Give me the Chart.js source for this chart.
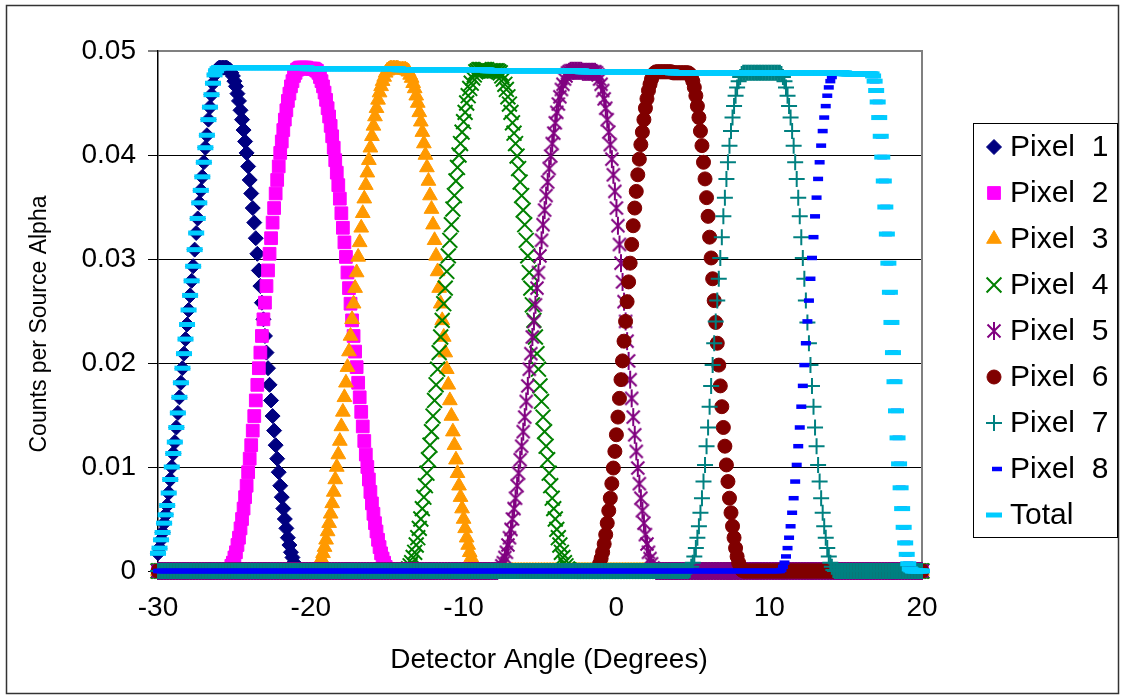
<!DOCTYPE html>
<html>
<head>
<meta charset="utf-8">
<title>Detector angle response</title>
<script src="https://cdn.jsdelivr.net/npm/chart.js@4.4.1/dist/chart.umd.min.js"></script>
<style>
  html, body { margin: 0; padding: 0; background: #ffffff; }
  #wrap { width: 1125px; height: 700px; }
</style>
</head>
<body>
<div id="wrap"><canvas id="chart" width="1125" height="700"></canvas></div>
<script>
// Detector angle in degrees (x values shared by every series)
const angles = [
-30,-29.9,-29.8,-29.7,-29.6,-29.5,-29.4,-29.3,-29.2,-29.1,
-29,-28.9,-28.8,-28.7,-28.6,-28.5,-28.4,-28.3,-28.2,-28.1,
-28,-27.9,-27.8,-27.7,-27.6,-27.5,-27.4,-27.3,-27.2,-27.1,
-27,-26.9,-26.8,-26.7,-26.6,-26.5,-26.4,-26.3,-26.2,-26.1,
-26,-25.9,-25.8,-25.7,-25.6,-25.5,-25.4,-25.3,-25.2,-25.1,
-25,-24.9,-24.8,-24.7,-24.6,-24.5,-24.4,-24.3,-24.2,-24.1,
-24,-23.9,-23.8,-23.7,-23.6,-23.5,-23.4,-23.3,-23.2,-23.1,
-23,-22.9,-22.8,-22.7,-22.6,-22.5,-22.4,-22.3,-22.2,-22.1,
-22,-21.9,-21.8,-21.7,-21.6,-21.5,-21.4,-21.3,-21.2,-21.1,
-21,-20.9,-20.8,-20.7,-20.6,-20.5,-20.4,-20.3,-20.2,-20.1,
-20,-19.9,-19.8,-19.7,-19.6,-19.5,-19.4,-19.3,-19.2,-19.1,
-19,-18.9,-18.8,-18.7,-18.6,-18.5,-18.4,-18.3,-18.2,-18.1,
-18,-17.9,-17.8,-17.7,-17.6,-17.5,-17.4,-17.3,-17.2,-17.1,
-17,-16.9,-16.8,-16.7,-16.6,-16.5,-16.4,-16.3,-16.2,-16.1,
-16,-15.9,-15.8,-15.7,-15.6,-15.5,-15.4,-15.3,-15.2,-15.1,
-15,-14.9,-14.8,-14.7,-14.6,-14.5,-14.4,-14.3,-14.2,-14.1,
-14,-13.9,-13.8,-13.7,-13.6,-13.5,-13.4,-13.3,-13.2,-13.1,
-13,-12.9,-12.8,-12.7,-12.6,-12.5,-12.4,-12.3,-12.2,-12.1,
-12,-11.9,-11.8,-11.7,-11.6,-11.5,-11.4,-11.3,-11.2,-11.1,
-11,-10.9,-10.8,-10.7,-10.6,-10.5,-10.4,-10.3,-10.2,-10.1,
-10,-9.9,-9.8,-9.7,-9.6,-9.5,-9.4,-9.3,-9.2,-9.1,
-9,-8.9,-8.8,-8.7,-8.6,-8.5,-8.4,-8.3,-8.2,-8.1,
-8,-7.9,-7.8,-7.7,-7.6,-7.5,-7.4,-7.3,-7.2,-7.1,
-7,-6.9,-6.8,-6.7,-6.6,-6.5,-6.4,-6.3,-6.2,-6.1,
-6,-5.9,-5.8,-5.7,-5.6,-5.5,-5.4,-5.3,-5.2,-5.1,
-5,-4.9,-4.8,-4.7,-4.6,-4.5,-4.4,-4.3,-4.2,-4.1,
-4,-3.9,-3.8,-3.7,-3.6,-3.5,-3.4,-3.3,-3.2,-3.1,
-3,-2.9,-2.8,-2.7,-2.6,-2.5,-2.4,-2.3,-2.2,-2.1,
-2,-1.9,-1.8,-1.7,-1.6,-1.5,-1.4,-1.3,-1.2,-1.1,
-1,-0.9,-0.8,-0.7,-0.6,-0.5,-0.4,-0.3,-0.2,-0.1,
0,0.1,0.2,0.3,0.4,0.5,0.6,0.7,0.8,0.9,
1,1.1,1.2,1.3,1.4,1.5,1.6,1.7,1.8,1.9,
2,2.1,2.2,2.3,2.4,2.5,2.6,2.7,2.8,2.9,
3,3.1,3.2,3.3,3.4,3.5,3.6,3.7,3.8,3.9,
4,4.1,4.2,4.3,4.4,4.5,4.6,4.7,4.8,4.9,
5,5.1,5.2,5.3,5.4,5.5,5.6,5.7,5.8,5.9,
6,6.1,6.2,6.3,6.4,6.5,6.6,6.7,6.8,6.9,
7,7.1,7.2,7.3,7.4,7.5,7.6,7.7,7.8,7.9,
8,8.1,8.2,8.3,8.4,8.5,8.6,8.7,8.8,8.9,
9,9.1,9.2,9.3,9.4,9.5,9.6,9.7,9.8,9.9,
10,10.1,10.2,10.3,10.4,10.5,10.6,10.7,10.8,10.9,
11,11.1,11.2,11.3,11.4,11.5,11.6,11.7,11.8,11.9,
12,12.1,12.2,12.3,12.4,12.5,12.6,12.7,12.8,12.9,
13,13.1,13.2,13.3,13.4,13.5,13.6,13.7,13.8,13.9,
14,14.1,14.2,14.3,14.4,14.5,14.6,14.7,14.8,14.9,
15,15.1,15.2,15.3,15.4,15.5,15.6,15.7,15.8,15.9,
16,16.1,16.2,16.3,16.4,16.5,16.6,16.7,16.8,16.9,
17,17.1,17.2,17.3,17.4,17.5,17.6,17.7,17.8,17.9,
18,18.1,18.2,18.3,18.4,18.5,18.6,18.7,18.8,18.9,
19,19.1,19.2,19.3,19.4,19.5,19.6,19.7,19.8,19.9,
20
];

// Counts per source alpha for each detector pixel
const pixel1 = [
0.0017,0.0022,0.0030,0.0037,0.0046,0.0054,0.0063,0.0075,0.0088,0.0100,
0.0113,0.0124,0.0138,0.0152,0.0167,0.0181,0.0195,0.0209,0.0223,0.0237,
0.0251,0.0265,0.0279,0.0293,0.0309,0.0325,0.0339,0.0354,0.0366,0.0379,
0.0393,0.0407,0.0419,0.0434,0.0446,0.0458,0.0469,0.0477,0.0481,0.0483,
0.0484,0.0484,0.0484,0.0484,0.0484,0.0484,0.0483,0.0482,0.0479,0.0476,
0.0471,0.0466,0.0459,0.0452,0.0443,0.0434,0.0424,0.0413,0.0402,0.0389,
0.0376,0.0363,0.0349,0.0335,0.0320,0.0305,0.0289,0.0274,0.0258,0.0242,
0.0226,0.0210,0.0195,0.0179,0.0164,0.0149,0.0135,0.0121,0.0108,0.0095,
0.0082,0.0071,0.0060,0.0050,0.0041,0.0032,0.0025,0.0018,0.0013,0.0008,
0.0005,0.0002,0.0001,0,0,0,0,0,0,0,
0,0,0,0,0,0,0,0,0,0,
0,0,0,0,0,0,0,0,0,0,
0,0,0,0,0,0,0,0,0,0,
0,0,0,0,0,0,0,0,0,0,
0,0,0,0,0,0,0,0,0,0,
0,0,0,0,0,0,0,0,0,0,
0,0,0,0,0,0,0,0,0,0,
0,0,0,0,0,0,0,0,0,0,
0,0,0,0,0,0,0,0,0,0,
0,0,0,0,0,0,0,0,0,0,
0,0,0,0,0,0,0,0,0,0,
0,0,0,0,0,0,0,0,0,0,
0,0,0,0,0,0,0,0,0,0,
0,0,0,0,0,0,0,0,0,0,
0,0,0,0,0,0,0,0,0,0,
0,0,0,0,0,0,0,0,0,0,
0,0,0,0,0,0,0,0,0,0,
0,0,0,0,0,0,0,0,0,0,
0,0,0,0,0,0,0,0,0,0,
0,0,0,0,0,0,0,0,0,0,
0,0,0,0,0,0,0,0,0,0,
0,0,0,0,0,0,0,0,0,0,
0,0,0,0,0,0,0,0,0,0,
0,0,0,0,0,0,0,0,0,0,
0,0,0,0,0,0,0,0,0,0,
0,0,0,0,0,0,0,0,0,0,
0,0,0,0,0,0,0,0,0,0,
0,0,0,0,0,0,0,0,0,0,
0,0,0,0,0,0,0,0,0,0,
0,0,0,0,0,0,0,0,0,0,
0,0,0,0,0,0,0,0,0,0,
0,0,0,0,0,0,0,0,0,0,
0,0,0,0,0,0,0,0,0,0,
0,0,0,0,0,0,0,0,0,0,
0,0,0,0,0,0,0,0,0,0,
0,0,0,0,0,0,0,0,0,0,
0,0,0,0,0,0,0,0,0,0,
0,0,0,0,0,0,0,0,0,0,
0,0,0,0,0,0,0,0,0,0,
0,0,0,0,0,0,0,0,0,0,
0
];

const pixel2 = [
0,0,0,0,0,0,0,0,0,0,
0,0,0,0,0,0,0,0,0,0,
0,0,0,0,0,0,0,0,0,0,
0,0,0,0,0,0,0,0,0,0,
0,0,0,0,0,0,0.0001,0.0002,0.0005,0.0008,
0.0013,0.0018,0.0025,0.0032,0.0041,0.0050,0.0060,0.0071,0.0082,0.0095,
0.0108,0.0121,0.0135,0.0149,0.0164,0.0179,0.0195,0.0210,0.0226,0.0242,
0.0258,0.0274,0.0289,0.0305,0.0320,0.0335,0.0349,0.0363,0.0376,0.0389,
0.0402,0.0413,0.0424,0.0434,0.0443,0.0452,0.0459,0.0466,0.0471,0.0476,
0.0479,0.0482,0.0483,0.0484,0.0484,0.0484,0.0484,0.0484,0.0483,0.0483,
0.0483,0.0483,0.0483,0.0482,0.0481,0.0479,0.0475,0.0471,0.0466,0.0460,
0.0453,0.0445,0.0437,0.0428,0.0418,0.0407,0.0395,0.0383,0.0371,0.0358,
0.0344,0.0330,0.0316,0.0302,0.0287,0.0272,0.0257,0.0241,0.0226,0.0211,
0.0196,0.0181,0.0167,0.0153,0.0139,0.0125,0.0112,0.0100,0.0088,0.0076,
0.0065,0.0055,0.0046,0.0038,0.0030,0.0023,0.0017,0.0012,0.0008,0.0004,
0.0002,0.0001,0,0,0,0,0,0,0,0,
0,0,0,0,0,0,0,0,0,0,
0,0,0,0,0,0,0,0,0,0,
0,0,0,0,0,0,0,0,0,0,
0,0,0,0,0,0,0,0,0,0,
0,0,0,0,0,0,0,0,0,0,
0,0,0,0,0,0,0,0,0,0,
0,0,0,0,0,0,0,0,0,0,
0,0,0,0,0,0,0,0,0,0,
0,0,0,0,0,0,0,0,0,0,
0,0,0,0,0,0,0,0,0,0,
0,0,0,0,0,0,0,0,0,0,
0,0,0,0,0,0,0,0,0,0,
0,0,0,0,0,0,0,0,0,0,
0,0,0,0,0,0,0,0,0,0,
0,0,0,0,0,0,0,0,0,0,
0,0,0,0,0,0,0,0,0,0,
0,0,0,0,0,0,0,0,0,0,
0,0,0,0,0,0,0,0,0,0,
0,0,0,0,0,0,0,0,0,0,
0,0,0,0,0,0,0,0,0,0,
0,0,0,0,0,0,0,0,0,0,
0,0,0,0,0,0,0,0,0,0,
0,0,0,0,0,0,0,0,0,0,
0,0,0,0,0,0,0,0,0,0,
0,0,0,0,0,0,0,0,0,0,
0,0,0,0,0,0,0,0,0,0,
0,0,0,0,0,0,0,0,0,0,
0,0,0,0,0,0,0,0,0,0,
0,0,0,0,0,0,0,0,0,0,
0,0,0,0,0,0,0,0,0,0,
0,0,0,0,0,0,0,0,0,0,
0,0,0,0,0,0,0,0,0,0,
0,0,0,0,0,0,0,0,0,0,
0,0,0,0,0,0,0,0,0,0,
0
];

const pixel3 = [
0,0,0,0,0,0,0,0,0,0,
0,0,0,0,0,0,0,0,0,0,
0,0,0,0,0,0,0,0,0,0,
0,0,0,0,0,0,0,0,0,0,
0,0,0,0,0,0,0,0,0,0,
0,0,0,0,0,0,0,0,0,0,
0,0,0,0,0,0,0,0,0,0,
0,0,0,0,0,0,0,0,0,0,
0,0,0,0,0,0,0,0,0,0,
0,0,0,0,0,0,0,0,0,0,
0,0,0,0.0001,0.0002,0.0004,0.0008,0.0012,0.0017,0.0023,
0.0030,0.0038,0.0046,0.0055,0.0065,0.0076,0.0088,0.0100,0.0112,0.0125,
0.0139,0.0153,0.0167,0.0181,0.0196,0.0211,0.0226,0.0242,0.0257,0.0272,
0.0287,0.0302,0.0316,0.0330,0.0344,0.0358,0.0371,0.0383,0.0395,0.0407,
0.0418,0.0428,0.0437,0.0445,0.0453,0.0460,0.0466,0.0471,0.0475,0.0479,
0.0481,0.0482,0.0483,0.0483,0.0483,0.0483,0.0483,0.0483,0.0482,0.0482,
0.0482,0.0482,0.0482,0.0481,0.0480,0.0477,0.0474,0.0469,0.0464,0.0457,
0.0450,0.0441,0.0432,0.0422,0.0411,0.0400,0.0388,0.0375,0.0361,0.0348,
0.0333,0.0318,0.0303,0.0288,0.0272,0.0257,0.0241,0.0225,0.0210,0.0194,
0.0179,0.0164,0.0149,0.0134,0.0121,0.0107,0.0094,0.0082,0.0071,0.0060,
0.0050,0.0041,0.0032,0.0025,0.0018,0.0013,0.0008,0.0005,0.0002,0.0001,
0,0,0,0,0,0,0,0,0,0,
0,0,0,0,0,0,0,0,0,0,
0,0,0,0,0,0,0,0,0,0,
0,0,0,0,0,0,0,0,0,0,
0,0,0,0,0,0,0,0,0,0,
0,0,0,0,0,0,0,0,0,0,
0,0,0,0,0,0,0,0,0,0,
0,0,0,0,0,0,0,0,0,0,
0,0,0,0,0,0,0,0,0,0,
0,0,0,0,0,0,0,0,0,0,
0,0,0,0,0,0,0,0,0,0,
0,0,0,0,0,0,0,0,0,0,
0,0,0,0,0,0,0,0,0,0,
0,0,0,0,0,0,0,0,0,0,
0,0,0,0,0,0,0,0,0,0,
0,0,0,0,0,0,0,0,0,0,
0,0,0,0,0,0,0,0,0,0,
0,0,0,0,0,0,0,0,0,0,
0,0,0,0,0,0,0,0,0,0,
0,0,0,0,0,0,0,0,0,0,
0,0,0,0,0,0,0,0,0,0,
0,0,0,0,0,0,0,0,0,0,
0,0,0,0,0,0,0,0,0,0,
0,0,0,0,0,0,0,0,0,0,
0,0,0,0,0,0,0,0,0,0,
0,0,0,0,0,0,0,0,0,0,
0,0,0,0,0,0,0,0,0,0,
0,0,0,0,0,0,0,0,0,0,
0,0,0,0,0,0,0,0,0,0,
0
];

const pixel4 = [
0,0,0,0,0,0,0,0,0,0,
0,0,0,0,0,0,0,0,0,0,
0,0,0,0,0,0,0,0,0,0,
0,0,0,0,0,0,0,0,0,0,
0,0,0,0,0,0,0,0,0,0,
0,0,0,0,0,0,0,0,0,0,
0,0,0,0,0,0,0,0,0,0,
0,0,0,0,0,0,0,0,0,0,
0,0,0,0,0,0,0,0,0,0,
0,0,0,0,0,0,0,0,0,0,
0,0,0,0,0,0,0,0,0,0,
0,0,0,0,0,0,0,0,0,0,
0,0,0,0,0,0,0,0,0,0,
0,0,0,0,0,0,0,0,0,0,
0,0,0,0,0,0,0,0,0,0,
0,0,0,0,0,0,0,0,0,0,
0,0,0,0.0001,0.0002,0.0005,0.0008,0.0013,0.0018,0.0025,
0.0032,0.0041,0.0050,0.0060,0.0071,0.0082,0.0094,0.0107,0.0121,0.0134,
0.0149,0.0164,0.0179,0.0194,0.0210,0.0225,0.0241,0.0257,0.0272,0.0288,
0.0303,0.0318,0.0333,0.0348,0.0361,0.0375,0.0388,0.0400,0.0411,0.0422,
0.0432,0.0441,0.0450,0.0457,0.0464,0.0469,0.0474,0.0477,0.0480,0.0481,
0.0482,0.0482,0.0482,0.0482,0.0482,0.0482,0.0481,0.0481,0.0481,0.0481,
0.0481,0.0481,0.0481,0.0480,0.0479,0.0476,0.0473,0.0468,0.0463,0.0456,
0.0449,0.0441,0.0431,0.0421,0.0411,0.0399,0.0387,0.0374,0.0361,0.0347,
0.0333,0.0318,0.0303,0.0287,0.0272,0.0256,0.0241,0.0225,0.0209,0.0194,
0.0178,0.0163,0.0148,0.0134,0.0120,0.0107,0.0094,0.0082,0.0070,0.0060,
0.0050,0.0040,0.0032,0.0025,0.0018,0.0013,0.0008,0.0005,0.0002,0.0001,
0,0,0,0,0,0,0,0,0,0,
0,0,0,0,0,0,0,0,0,0,
0,0,0,0,0,0,0,0,0,0,
0,0,0,0,0,0,0,0,0,0,
0,0,0,0,0,0,0,0,0,0,
0,0,0,0,0,0,0,0,0,0,
0,0,0,0,0,0,0,0,0,0,
0,0,0,0,0,0,0,0,0,0,
0,0,0,0,0,0,0,0,0,0,
0,0,0,0,0,0,0,0,0,0,
0,0,0,0,0,0,0,0,0,0,
0,0,0,0,0,0,0,0,0,0,
0,0,0,0,0,0,0,0,0,0,
0,0,0,0,0,0,0,0,0,0,
0,0,0,0,0,0,0,0,0,0,
0,0,0,0,0,0,0,0,0,0,
0,0,0,0,0,0,0,0,0,0,
0,0,0,0,0,0,0,0,0,0,
0,0,0,0,0,0,0,0,0,0,
0,0,0,0,0,0,0,0,0,0,
0,0,0,0,0,0,0,0,0,0,
0,0,0,0,0,0,0,0,0,0,
0,0,0,0,0,0,0,0,0,0,
0
];

const pixel5 = [
0,0,0,0,0,0,0,0,0,0,
0,0,0,0,0,0,0,0,0,0,
0,0,0,0,0,0,0,0,0,0,
0,0,0,0,0,0,0,0,0,0,
0,0,0,0,0,0,0,0,0,0,
0,0,0,0,0,0,0,0,0,0,
0,0,0,0,0,0,0,0,0,0,
0,0,0,0,0,0,0,0,0,0,
0,0,0,0,0,0,0,0,0,0,
0,0,0,0,0,0,0,0,0,0,
0,0,0,0,0,0,0,0,0,0,
0,0,0,0,0,0,0,0,0,0,
0,0,0,0,0,0,0,0,0,0,
0,0,0,0,0,0,0,0,0,0,
0,0,0,0,0,0,0,0,0,0,
0,0,0,0,0,0,0,0,0,0,
0,0,0,0,0,0,0,0,0,0,
0,0,0,0,0,0,0,0,0,0,
0,0,0,0,0,0,0,0,0,0,
0,0,0,0,0,0,0,0,0,0,
0,0,0,0,0,0,0,0,0,0,
0,0,0,0,0,0,0,0,0,0,
0,0,0,0.0001,0.0002,0.0005,0.0008,0.0013,0.0018,0.0025,
0.0032,0.0040,0.0050,0.0060,0.0070,0.0082,0.0094,0.0107,0.0120,0.0134,
0.0148,0.0163,0.0178,0.0194,0.0209,0.0225,0.0240,0.0256,0.0272,0.0287,
0.0303,0.0318,0.0333,0.0347,0.0361,0.0374,0.0387,0.0399,0.0411,0.0421,
0.0431,0.0441,0.0449,0.0456,0.0463,0.0468,0.0473,0.0476,0.0479,0.0480,
0.0481,0.0481,0.0481,0.0481,0.0481,0.0481,0.0481,0.0481,0.0480,0.0480,
0.0480,0.0480,0.0480,0.0480,0.0480,0.0480,0.0480,0.0479,0.0477,0.0473,
0.0468,0.0462,0.0454,0.0445,0.0434,0.0422,0.0410,0.0396,0.0381,0.0365,
0.0349,0.0332,0.0314,0.0296,0.0278,0.0259,0.0240,0.0221,0.0202,0.0184,
0.0166,0.0148,0.0131,0.0115,0.0099,0.0084,0.0070,0.0058,0.0046,0.0035,
0.0026,0.0018,0.0012,0.0007,0.0003,0.0001,0,0,0,0,
0,0,0,0,0,0,0,0,0,0,
0,0,0,0,0,0,0,0,0,0,
0,0,0,0,0,0,0,0,0,0,
0,0,0,0,0,0,0,0,0,0,
0,0,0,0,0,0,0,0,0,0,
0,0,0,0,0,0,0,0,0,0,
0,0,0,0,0,0,0,0,0,0,
0,0,0,0,0,0,0,0,0,0,
0,0,0,0,0,0,0,0,0,0,
0,0,0,0,0,0,0,0,0,0,
0,0,0,0,0,0,0,0,0,0,
0,0,0,0,0,0,0,0,0,0,
0,0,0,0,0,0,0,0,0,0,
0,0,0,0,0,0,0,0,0,0,
0,0,0,0,0,0,0,0,0,0,
0,0,0,0,0,0,0,0,0,0,
0,0,0,0,0,0,0,0,0,0,
0
];

const pixel6 = [
0,0,0,0,0,0,0,0,0,0,
0,0,0,0,0,0,0,0,0,0,
0,0,0,0,0,0,0,0,0,0,
0,0,0,0,0,0,0,0,0,0,
0,0,0,0,0,0,0,0,0,0,
0,0,0,0,0,0,0,0,0,0,
0,0,0,0,0,0,0,0,0,0,
0,0,0,0,0,0,0,0,0,0,
0,0,0,0,0,0,0,0,0,0,
0,0,0,0,0,0,0,0,0,0,
0,0,0,0,0,0,0,0,0,0,
0,0,0,0,0,0,0,0,0,0,
0,0,0,0,0,0,0,0,0,0,
0,0,0,0,0,0,0,0,0,0,
0,0,0,0,0,0,0,0,0,0,
0,0,0,0,0,0,0,0,0,0,
0,0,0,0,0,0,0,0,0,0,
0,0,0,0,0,0,0,0,0,0,
0,0,0,0,0,0,0,0,0,0,
0,0,0,0,0,0,0,0,0,0,
0,0,0,0,0,0,0,0,0,0,
0,0,0,0,0,0,0,0,0,0,
0,0,0,0,0,0,0,0,0,0,
0,0,0,0,0,0,0,0,0,0,
0,0,0,0,0,0,0,0,0,0,
0,0,0,0,0,0,0,0,0,0,
0,0,0,0,0,0,0,0,0,0,
0,0,0,0,0,0,0,0,0,0,
0,0,0,0,0,0,0,0.0001,0.0003,0.0007,
0.0012,0.0018,0.0026,0.0035,0.0046,0.0058,0.0070,0.0084,0.0099,0.0115,
0.0131,0.0148,0.0166,0.0184,0.0202,0.0221,0.0240,0.0259,0.0278,0.0296,
0.0314,0.0332,0.0349,0.0365,0.0381,0.0396,0.0410,0.0422,0.0434,0.0445,
0.0454,0.0462,0.0468,0.0473,0.0477,0.0479,0.0480,0.0480,0.0480,0.0480,
0.0480,0.0480,0.0480,0.0480,0.0480,0.0480,0.0480,0.0479,0.0479,0.0479,
0.0479,0.0479,0.0479,0.0479,0.0479,0.0479,0.0479,0.0479,0.0478,0.0475,
0.0471,0.0465,0.0457,0.0447,0.0436,0.0423,0.0409,0.0393,0.0377,0.0359,
0.0341,0.0321,0.0301,0.0281,0.0260,0.0239,0.0219,0.0198,0.0178,0.0158,
0.0138,0.0120,0.0102,0.0086,0.0070,0.0056,0.0043,0.0032,0.0022,0.0014,
0.0008,0.0004,0.0001,0,0,0,0,0,0,0,
0,0,0,0,0,0,0,0,0,0,
0,0,0,0,0,0,0,0,0,0,
0,0,0,0,0,0,0,0,0,0,
0,0,0,0,0,0,0,0,0,0,
0,0,0,0,0,0,0,0,0,0,
0,0,0,0,0,0,0,0,0,0,
0,0,0,0,0,0,0,0,0,0,
0,0,0,0,0,0,0,0,0,0,
0,0,0,0,0,0,0,0,0,0,
0,0,0,0,0,0,0,0,0,0,
0,0,0,0,0,0,0,0,0,0,
0
];

const pixel7 = [
0,0,0,0,0,0,0,0,0,0,
0,0,0,0,0,0,0,0,0,0,
0,0,0,0,0,0,0,0,0,0,
0,0,0,0,0,0,0,0,0,0,
0,0,0,0,0,0,0,0,0,0,
0,0,0,0,0,0,0,0,0,0,
0,0,0,0,0,0,0,0,0,0,
0,0,0,0,0,0,0,0,0,0,
0,0,0,0,0,0,0,0,0,0,
0,0,0,0,0,0,0,0,0,0,
0,0,0,0,0,0,0,0,0,0,
0,0,0,0,0,0,0,0,0,0,
0,0,0,0,0,0,0,0,0,0,
0,0,0,0,0,0,0,0,0,0,
0,0,0,0,0,0,0,0,0,0,
0,0,0,0,0,0,0,0,0,0,
0,0,0,0,0,0,0,0,0,0,
0,0,0,0,0,0,0,0,0,0,
0,0,0,0,0,0,0,0,0,0,
0,0,0,0,0,0,0,0,0,0,
0,0,0,0,0,0,0,0,0,0,
0,0,0,0,0,0,0,0,0,0,
0,0,0,0,0,0,0,0,0,0,
0,0,0,0,0,0,0,0,0,0,
0,0,0,0,0,0,0,0,0,0,
0,0,0,0,0,0,0,0,0,0,
0,0,0,0,0,0,0,0,0,0,
0,0,0,0,0,0,0,0,0,0,
0,0,0,0,0,0,0,0,0,0,
0,0,0,0,0,0,0,0,0,0,
0,0,0,0,0,0,0,0,0,0,
0,0,0,0,0,0,0,0,0,0,
0,0,0,0,0,0,0,0,0,0,
0,0,0,0,0,0,0,0,0,0,
0,0,0,0,0,0,0,0,0.0001,0.0004,
0.0008,0.0014,0.0022,0.0032,0.0043,0.0056,0.0070,0.0086,0.0102,0.0120,
0.0138,0.0158,0.0178,0.0198,0.0219,0.0240,0.0260,0.0281,0.0301,0.0321,
0.0341,0.0359,0.0377,0.0393,0.0409,0.0423,0.0436,0.0447,0.0457,0.0465,
0.0471,0.0475,0.0478,0.0479,0.0479,0.0479,0.0479,0.0479,0.0479,0.0479,
0.0479,0.0479,0.0479,0.0479,0.0479,0.0479,0.0479,0.0479,0.0479,0.0479,
0.0479,0.0479,0.0479,0.0479,0.0479,0.0479,0.0479,0.0479,0.0478,0.0475,
0.0471,0.0465,0.0457,0.0447,0.0436,0.0423,0.0409,0.0393,0.0377,0.0359,
0.0341,0.0321,0.0301,0.0281,0.0260,0.0239,0.0219,0.0198,0.0178,0.0158,
0.0138,0.0120,0.0102,0.0086,0.0070,0.0056,0.0043,0.0032,0.0022,0.0014,
0.0008,0.0004,0.0001,0,0,0,0,0,0,0,
0,0,0,0,0,0,0,0,0,0,
0,0,0,0,0,0,0,0,0,0,
0,0,0,0,0,0,0,0,0,0,
0,0,0,0,0,0,0,0,0,0,
0,0,0,0,0,0,0,0,0,0,
0
];

const pixel8 = [
0,0,0,0,0,0,0,0,0,0,
0,0,0,0,0,0,0,0,0,0,
0,0,0,0,0,0,0,0,0,0,
0,0,0,0,0,0,0,0,0,0,
0,0,0,0,0,0,0,0,0,0,
0,0,0,0,0,0,0,0,0,0,
0,0,0,0,0,0,0,0,0,0,
0,0,0,0,0,0,0,0,0,0,
0,0,0,0,0,0,0,0,0,0,
0,0,0,0,0,0,0,0,0,0,
0,0,0,0,0,0,0,0,0,0,
0,0,0,0,0,0,0,0,0,0,
0,0,0,0,0,0,0,0,0,0,
0,0,0,0,0,0,0,0,0,0,
0,0,0,0,0,0,0,0,0,0,
0,0,0,0,0,0,0,0,0,0,
0,0,0,0,0,0,0,0,0,0,
0,0,0,0,0,0,0,0,0,0,
0,0,0,0,0,0,0,0,0,0,
0,0,0,0,0,0,0,0,0,0,
0,0,0,0,0,0,0,0,0,0,
0,0,0,0,0,0,0,0,0,0,
0,0,0,0,0,0,0,0,0,0,
0,0,0,0,0,0,0,0,0,0,
0,0,0,0,0,0,0,0,0,0,
0,0,0,0,0,0,0,0,0,0,
0,0,0,0,0,0,0,0,0,0,
0,0,0,0,0,0,0,0,0,0,
0,0,0,0,0,0,0,0,0,0,
0,0,0,0,0,0,0,0,0,0,
0,0,0,0,0,0,0,0,0,0,
0,0,0,0,0,0,0,0,0,0,
0,0,0,0,0,0,0,0,0,0,
0,0,0,0,0,0,0,0,0,0,
0,0,0,0,0,0,0,0,0,0,
0,0,0,0,0,0,0,0,0,0,
0,0,0,0,0,0,0,0,0,0,
0,0,0,0,0,0,0,0,0,0,
0,0,0,0,0,0,0,0,0,0,
0,0,0,0,0,0,0,0,0,0,
0,0,0,0,0,0,0,0,0.0001,0.0004,
0.0008,0.0014,0.0022,0.0032,0.0043,0.0056,0.0070,0.0086,0.0102,0.0120,
0.0138,0.0158,0.0178,0.0198,0.0219,0.0240,0.0260,0.0281,0.0301,0.0321,
0.0341,0.0359,0.0377,0.0393,0.0409,0.0423,0.0436,0.0447,0.0457,0.0465,
0.0471,0.0475,0.0478,0.0479,0.0479,0.0479,0.0479,0.0479,0.0479,0.0479,
0.0478,0.0478,0.0478,0.0478,0.0478,0.0478,0.0478,0.0478,0.0478,0.0478,
0.0478,0.0478,0.0478,0.0478,0.0478,0.0478,0.0478,0.0478,0.0476,0.0471,
0.0462,0.0451,0.0436,0.0418,0.0398,0.0375,0.0350,0.0324,0.0296,0.0268,
0.0239,0.0210,0.0182,0.0154,0.0128,0.0103,0.0080,0.0060,0.0042,0.0027,
0.0016,0.0007,0.0002,0.0001,0,0,0,0,0,0,
0
];

// Sum over all pixels
const total = [
0.0017,0.0022,0.0030,0.0037,0.0046,0.0054,0.0063,0.0075,0.0088,0.0100,
0.0113,0.0124,0.0138,0.0152,0.0167,0.0181,0.0195,0.0209,0.0223,0.0237,
0.0251,0.0265,0.0279,0.0293,0.0309,0.0325,0.0339,0.0354,0.0366,0.0379,
0.0393,0.0407,0.0419,0.0434,0.0446,0.0458,0.0469,0.0477,0.0481,0.0483,
0.0484,0.0484,0.0484,0.0484,0.0484,0.0484,0.0484,0.0484,0.0484,0.0484,
0.0484,0.0484,0.0484,0.0484,0.0484,0.0484,0.0484,0.0484,0.0484,0.0484,
0.0484,0.0484,0.0484,0.0484,0.0484,0.0484,0.0484,0.0484,0.0484,0.0484,
0.0484,0.0484,0.0484,0.0484,0.0484,0.0484,0.0484,0.0484,0.0484,0.0484,
0.0484,0.0484,0.0484,0.0484,0.0484,0.0484,0.0484,0.0484,0.0484,0.0484,
0.0484,0.0484,0.0484,0.0484,0.0484,0.0484,0.0484,0.0484,0.0483,0.0483,
0.0483,0.0483,0.0483,0.0483,0.0483,0.0483,0.0483,0.0483,0.0483,0.0483,
0.0483,0.0483,0.0483,0.0483,0.0483,0.0483,0.0483,0.0483,0.0483,0.0483,
0.0483,0.0483,0.0483,0.0483,0.0483,0.0483,0.0483,0.0483,0.0483,0.0483,
0.0483,0.0483,0.0483,0.0483,0.0483,0.0483,0.0483,0.0483,0.0483,0.0483,
0.0483,0.0483,0.0483,0.0483,0.0483,0.0483,0.0483,0.0483,0.0483,0.0483,
0.0483,0.0483,0.0483,0.0483,0.0483,0.0483,0.0483,0.0483,0.0482,0.0482,
0.0482,0.0482,0.0482,0.0482,0.0482,0.0482,0.0482,0.0482,0.0482,0.0482,
0.0482,0.0482,0.0482,0.0482,0.0482,0.0482,0.0482,0.0482,0.0482,0.0482,
0.0482,0.0482,0.0482,0.0482,0.0482,0.0482,0.0482,0.0482,0.0482,0.0482,
0.0482,0.0482,0.0482,0.0482,0.0482,0.0482,0.0482,0.0482,0.0482,0.0482,
0.0482,0.0482,0.0482,0.0482,0.0482,0.0482,0.0482,0.0482,0.0482,0.0482,
0.0482,0.0482,0.0482,0.0482,0.0482,0.0482,0.0481,0.0481,0.0481,0.0481,
0.0481,0.0481,0.0481,0.0481,0.0481,0.0481,0.0481,0.0481,0.0481,0.0481,
0.0481,0.0481,0.0481,0.0481,0.0481,0.0481,0.0481,0.0481,0.0481,0.0481,
0.0481,0.0481,0.0481,0.0481,0.0481,0.0481,0.0481,0.0481,0.0481,0.0481,
0.0481,0.0481,0.0481,0.0481,0.0481,0.0481,0.0481,0.0481,0.0481,0.0481,
0.0481,0.0481,0.0481,0.0481,0.0481,0.0481,0.0481,0.0481,0.0481,0.0481,
0.0481,0.0481,0.0481,0.0481,0.0481,0.0481,0.0481,0.0481,0.0480,0.0480,
0.0480,0.0480,0.0480,0.0480,0.0480,0.0480,0.0480,0.0480,0.0480,0.0480,
0.0480,0.0480,0.0480,0.0480,0.0480,0.0480,0.0480,0.0480,0.0480,0.0480,
0.0480,0.0480,0.0480,0.0480,0.0480,0.0480,0.0480,0.0480,0.0480,0.0480,
0.0480,0.0480,0.0480,0.0480,0.0480,0.0480,0.0480,0.0480,0.0480,0.0480,
0.0480,0.0480,0.0480,0.0480,0.0480,0.0480,0.0480,0.0480,0.0480,0.0480,
0.0480,0.0480,0.0480,0.0480,0.0480,0.0480,0.0480,0.0479,0.0479,0.0479,
0.0479,0.0479,0.0479,0.0479,0.0479,0.0479,0.0479,0.0479,0.0479,0.0479,
0.0479,0.0479,0.0479,0.0479,0.0479,0.0479,0.0479,0.0479,0.0479,0.0479,
0.0479,0.0479,0.0479,0.0479,0.0479,0.0479,0.0479,0.0479,0.0479,0.0479,
0.0479,0.0479,0.0479,0.0479,0.0479,0.0479,0.0479,0.0479,0.0479,0.0479,
0.0479,0.0479,0.0479,0.0479,0.0479,0.0479,0.0479,0.0479,0.0479,0.0479,
0.0479,0.0479,0.0479,0.0479,0.0479,0.0479,0.0479,0.0479,0.0479,0.0479,
0.0479,0.0479,0.0479,0.0479,0.0479,0.0479,0.0479,0.0479,0.0479,0.0479,
0.0479,0.0479,0.0479,0.0479,0.0479,0.0479,0.0479,0.0479,0.0479,0.0479,
0.0479,0.0479,0.0479,0.0479,0.0479,0.0479,0.0479,0.0479,0.0479,0.0479,
0.0479,0.0479,0.0479,0.0479,0.0479,0.0479,0.0479,0.0479,0.0479,0.0479,
0.0479,0.0479,0.0479,0.0479,0.0479,0.0479,0.0479,0.0479,0.0479,0.0479,
0.0478,0.0478,0.0478,0.0478,0.0478,0.0478,0.0478,0.0478,0.0478,0.0478,
0.0478,0.0478,0.0478,0.0478,0.0478,0.0478,0.0478,0.0478,0.0476,0.0471,
0.0462,0.0451,0.0436,0.0418,0.0398,0.0375,0.0350,0.0324,0.0296,0.0268,
0.0239,0.0210,0.0182,0.0154,0.0128,0.0103,0.0080,0.0060,0.0042,0.0027,
0.0016,0.0007,0.0002,0.0001,0,0,0,0,0,0,
0
];

const seriesLabels = ['Pixel  1', 'Pixel  2', 'Pixel  3', 'Pixel  4', 'Pixel  5',
                      'Pixel  6', 'Pixel  7', 'Pixel  8', 'Total'];
const seriesValues = [pixel1, pixel2, pixel3, pixel4, pixel5, pixel6, pixel7, pixel8, total];
const xTicks = [-30, -20, -10, 0, 10, 20];
const yTicks = [0, 0.01, 0.02, 0.03, 0.04, 0.05];

const FONT = '"Liberation Sans", Arial, Helvetica, sans-serif';
Chart.defaults.font.family = FONT;
Chart.defaults.color = '#000';

// Asterisk marker: a diagonal cross with a vertical bar through it
function asteriskMarker(color) {
  const c = document.createElement('canvas');
  c.width = 18; c.height = 20;
  const g = c.getContext('2d');
  g.strokeStyle = color;
  g.lineWidth = 2;
  g.beginPath();
  g.moveTo(2.5, 3.5); g.lineTo(15.5, 16.5);
  g.moveTo(15.5, 3.5); g.lineTo(2.5, 16.5);
  g.moveTo(9, 1); g.lineTo(9, 19);
  g.stroke();
  return c;
}

const markerStyles = [
  { color: '#000080', style: 'rectRot',  radius: 7.5, width: 1 },
  { color: '#FF00FF', style: 'rect',     radius: 9,   width: 1 },
  { color: '#FF9900', style: 'triangle', radius: 8.5, width: 1 },
  { color: '#008000', style: 'crossRot', radius: 10.5, width: 2 },
  { color: '#800080', style: asteriskMarker('#800080'), radius: 9, width: 2 },
  { color: '#800000', style: 'circle',   radius: 7,   width: 1 },
  { color: '#008080', style: 'cross',    radius: 8,   width: 2 },
  { color: '#0000FF', style: 'line',     radius: 5,   width: 4.5 },
  { color: '#00CCFF', style: 'line',     radius: 8,   width: 5 }
];

const datasets = seriesValues.map((vals, s) => ({
  label: seriesLabels[s],
  data: angles.map((a, i) => ({ x: a, y: vals[i] })),
  showLine: false,
  pointStyle: markerStyles[s].style,
  pointRadius: markerStyles[s].radius,
  pointHoverRadius: markerStyles[s].radius,
  pointBackgroundColor: markerStyles[s].color,
  pointBorderColor: markerStyles[s].color,
  pointBorderWidth: markerStyles[s].width,
  borderColor: markerStyles[s].color,
  backgroundColor: markerStyles[s].color,
  clip: false,
  // later series are painted over earlier ones
  order: seriesValues.length - s
}));

const decorations = {
  id: 'decorations',
  beforeDraw(chart) {
    const ctx = chart.ctx;
    ctx.save();
    ctx.fillStyle = '#ffffff';
    ctx.fillRect(0, 0, chart.width, chart.height);
    ctx.restore();
  },
  beforeDatasetsDraw(chart) {
    const { ctx, chartArea: a } = chart;
    ctx.save();
    ctx.strokeStyle = '#808080';
    ctx.lineWidth = 2;
    ctx.beginPath();
    ctx.moveTo(a.right, a.top - 1);
    ctx.lineTo(a.right, a.bottom);
    ctx.stroke();
    ctx.restore();
  },
  afterDraw(chart) {
    const ctx = chart.ctx;
    ctx.save();
    // outer frame
    ctx.strokeStyle = '#333333';
    ctx.lineWidth = 1.5;
    ctx.strokeRect(6.5, 5.5, 1112, 688);

    // axis titles
    ctx.fillStyle = '#000';
    ctx.textAlign = 'center';
    ctx.textBaseline = 'middle';
    ctx.font = '28px ' + FONT;
    ctx.fillText('Detector Angle (Degrees)', 549, 660);
    ctx.save();
    ctx.translate(40, 324);
    ctx.rotate(-Math.PI / 2);
    ctx.font = '23px ' + FONT;
    ctx.fillText('Counts per Source Alpha', 0, 0);
    ctx.restore();

    // legend
    ctx.strokeStyle = '#000';
    ctx.lineWidth = 1;
    ctx.strokeRect(973.5, 123.5, 144, 414);
    ctx.font = '30px ' + FONT;
    ctx.textAlign = 'left';
    ctx.textBaseline = 'middle';
    chart.data.datasets.forEach((ds, i) => {
      const y = 147 + 46 * i;
      const m = markerStyles[i];
      const mx = i === 7 ? 997 : 994;
      ctx.save();
      ctx.fillStyle = m.color;
      ctx.strokeStyle = m.color;
      ctx.lineWidth = m.width;
      Chart.helpers.drawPoint(ctx, {
        pointStyle: m.style, radius: m.radius, rotation: 0, borderWidth: m.width
      }, mx, y);
      ctx.restore();
      ctx.fillStyle = '#000';
      ctx.fillText(ds.label, 1010, y + 1);
    });
    ctx.restore();
  }
};

new Chart(document.getElementById('chart'), {
  type: 'scatter',
  data: { datasets },
  plugins: [decorations],
  options: {
    responsive: false,
    devicePixelRatio: 1,
    animation: false,
    events: [],
    layout: { padding: { top: 51, right: 203, bottom: 0, left: 0 } },
    plugins: {
      legend: { display: false },
      tooltip: { enabled: false },
      title: { display: false }
    },
    scales: {
      x: {
        type: 'linear',
        min: xTicks[0],
        max: xTicks[xTicks.length - 1],
        afterBuildTicks: (scale) => { scale.ticks = xTicks.map(v => ({ value: v })); },
        afterFit: (scale) => { scale.height = 129; },
        ticks: {
          font: { size: 28 },
          color: '#000',
          padding: 13,
          maxRotation: 0,
          callback: (v) => String(v)
        },
        grid: {
          drawOnChartArea: false,
          drawTicks: true,
          tickLength: 7,
          color: '#000',
          lineWidth: 1
        },
        border: { display: true, color: '#000', width: 1.5 }
      },
      y: {
        type: 'linear',
        min: yTicks[0],
        max: yTicks[yTicks.length - 1],
        afterBuildTicks: (scale) => { scale.ticks = yTicks.map(v => ({ value: v })); },
        afterFit: (scale) => { scale.width = 158; },
        ticks: {
          font: { size: 28 },
          color: '#000',
          padding: 12,
          callback: (v) => (v === 0 ? '0' : Number(v).toFixed(2))
        },
        grid: {
          drawTicks: true,
          tickLength: 10,
          color: (c) => (c.tick && c.tick.value >= 0.05 ? '#808080' : '#000'),
          lineWidth: (c) => (c.tick && c.tick.value >= 0.05 ? 2 : 1)
        },
        border: { display: true, color: '#000', width: 1.5 }
      }
    }
  }
});
</script>
</body>
</html>
